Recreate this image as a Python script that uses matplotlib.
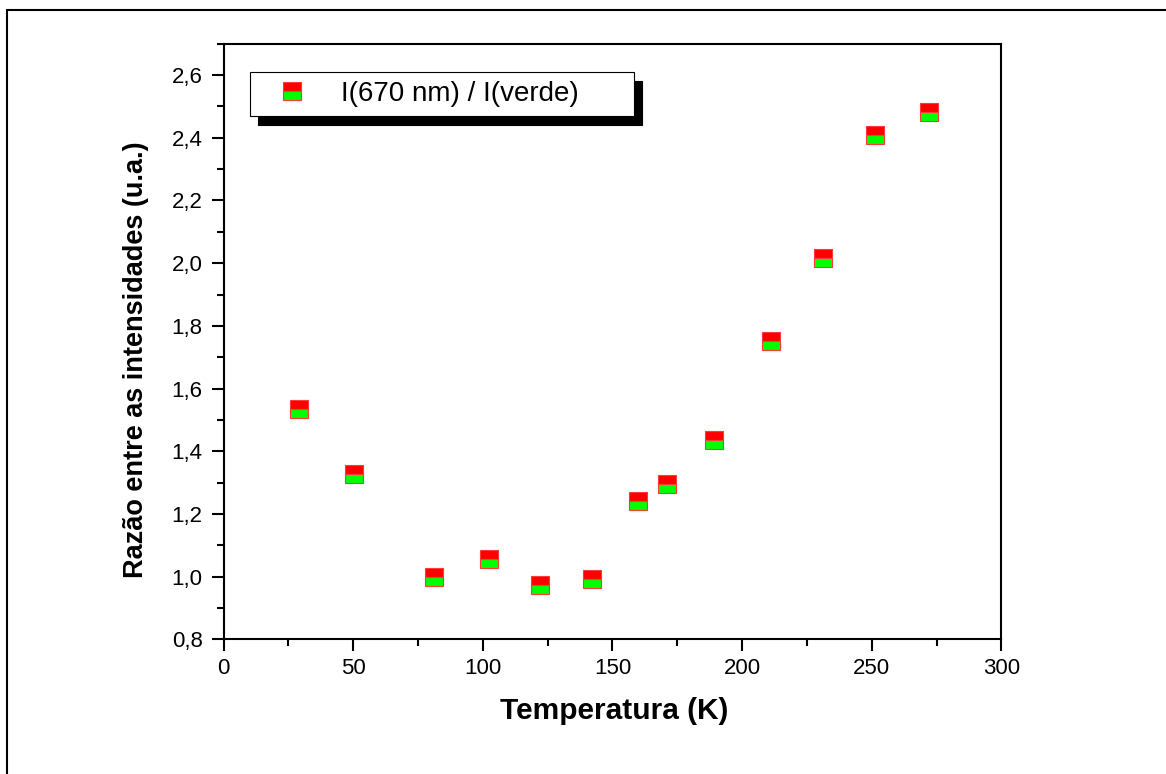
import matplotlib
matplotlib.use('Agg')
import matplotlib.pyplot as plt
import matplotlib.patches as mpatches
from matplotlib.ticker import MultipleLocator, FuncFormatter

plt.rcParams['font.family'] = ['Liberation Sans', 'DejaVu Sans']

# dados: razao I(670 nm) / I(verde) vs temperatura
temperatura = [29.2, 50.2, 81.2, 102.2, 122.1, 142.0, 160.0, 171.1, 189.2, 211.1, 231.0, 251.1, 272.2]
razao = [1.536, 1.326, 1.000, 1.057, 0.973, 0.992, 1.240, 1.294, 1.437, 1.753, 2.016, 2.408, 2.483]
legenda = 'I(670 nm) / I(verde)'

fig = plt.figure(figsize=(11.66, 7.74), dpi=100)
ax = fig.add_axes([0.1917, 0.1740, 0.6672, 0.7695])

# moldura externa (passa das bordas direita e inferior)
frame = mpatches.Rectangle((7 / 1166, -0.2), 1.2, 1 - 10 / 774 + 0.2, transform=fig.transFigure,
                           fill=False, edgecolor='black', linewidth=1.5)
fig.patches.append(frame)

ax.plot(temperatura, razao, linestyle='none', marker='s', markersize=12.5,
        fillstyle='top', markerfacecolor='#ff0000', markerfacecoloralt='#00ff00',
        markeredgecolor='#ff3a3a', markeredgewidth=0.8, label=legenda)

ax.set_xlim(0, 300)
ax.set_ylim(0.8, 2.7)
ax.xaxis.set_major_locator(MultipleLocator(50))
ax.xaxis.set_minor_locator(MultipleLocator(25))
ax.yaxis.set_major_locator(MultipleLocator(0.2))
ax.yaxis.set_minor_locator(MultipleLocator(0.1))
ax.yaxis.set_major_formatter(FuncFormatter(lambda v, p: ('%.1f' % v).replace('.', ',')))

for s in ax.spines.values():
    s.set_linewidth(1.5)
ax.tick_params(which='major', direction='out', length=8.6, width=1.5, labelsize=16)
ax.tick_params(which='minor', direction='out', length=4.8, width=1.5)
ax.tick_params(axis='x', which='major', pad=5.2)
ax.tick_params(axis='y', which='major', pad=6.5)

ax.set_xlabel('Temperatura (K)', fontsize=21.5, fontweight='bold')
ax.set_ylabel('Razão entre as intensidades (u.a.)', fontsize=19.5, fontweight='bold')
ax.xaxis.set_label_coords(0.502, -0.096)
ax.yaxis.set_label_coords(-0.096, 0.469)

leg = ax.legend(loc='upper left', bbox_to_anchor=(0.034, 0.853, 0.4936, 0.1), mode='expand',
                borderaxespad=0, fontsize=20, fancybox=False, framealpha=1, edgecolor='black',
                borderpad=0.32, handlelength=2.38, handletextpad=0.58,
                shadow={'ox': 5.5, 'oy': -7, 'color': 'black', 'alpha': 1})
leg.get_frame().set_linewidth(0.8)

fig.savefig('out.png', dpi=100)
